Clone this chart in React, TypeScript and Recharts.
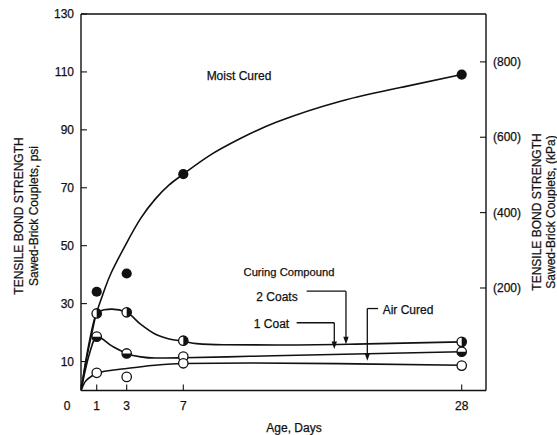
import React from 'react';
import { ComposedChart, Line, Scatter, XAxis, YAxis, ReferenceLine, ReferenceDot } from 'recharts';

// ---------- data ----------
const X_TICKS = [0, 1, 3, 7, 28];
const PSI_TICKS = [10, 30, 50, 70, 90, 110, 130];
const KPA_TICKS = [200, 400, 600, 800];

// fitted curves (day, psi)
const moistCurve = [
  { day: 0, psi: 0 }, { day: 0.25, psi: 8 }, { day: 0.5, psi: 15 }, { day: 0.75, psi: 21.3 },
  { day: 1, psi: 27 }, { day: 1.5, psi: 34.5 }, { day: 2, psi: 41 }, { day: 3, psi: 51 },
  { day: 4, psi: 59.5 }, { day: 5, psi: 66 }, { day: 6, psi: 71 }, { day: 7, psi: 74.7 },
  { day: 9, psi: 81.2 }, { day: 11.3, psi: 87 }, { day: 14, psi: 92.6 }, { day: 18.8, psi: 99.8 },
  { day: 23.8, psi: 105 }, { day: 28, psi: 109.1 },
];
const twoCoatCurve = [
  { day: 0, psi: 0 }, { day: 0.5, psi: 16 }, { day: 1, psi: 26.6 }, { day: 1.5, psi: 27.9 },
  { day: 2, psi: 28.1 }, { day: 3, psi: 27.0 }, { day: 4, psi: 22.8 }, { day: 5, psi: 19.5 },
  { day: 6, psi: 17.8 }, { day: 7, psi: 17.0 }, { day: 8, psi: 16.2 }, { day: 10, psi: 15.8 },
  { day: 14, psi: 15.7 }, { day: 20, psi: 16.0 }, { day: 28, psi: 16.8 },
];
const oneCoatCurve = [
  { day: 0, psi: 0 }, { day: 0.5, psi: 12 }, { day: 1, psi: 18.6 }, { day: 2, psi: 15.4 },
  { day: 3, psi: 12.8 }, { day: 4, psi: 11.6 }, { day: 5, psi: 11.2 }, { day: 7, psi: 11.3 },
  { day: 12, psi: 11.8 }, { day: 20, psi: 12.6 }, { day: 28, psi: 13.4 },
];
const airCurve = [
  { day: 0, psi: 0 }, { day: 0.2, psi: 2.5 }, { day: 0.5, psi: 4.3 }, { day: 1, psi: 5.9 },
  { day: 2, psi: 7.0 }, { day: 3, psi: 7.6 }, { day: 5, psi: 8.7 }, { day: 7, psi: 9.3 },
  { day: 12, psi: 9.5 }, { day: 20, psi: 9.2 }, { day: 28, psi: 8.7 },
];

// measured points
const moistPts = [{ day: 1, psi: 34.1 }, { day: 3, psi: 40.4 }, { day: 7, psi: 74.7 }, { day: 28, psi: 109.1 }];
const twoCoatPts = [{ day: 1, psi: 26.6 }, { day: 3, psi: 27.0 }, { day: 7, psi: 17.2 }, { day: 28, psi: 16.8 }];
const oneCoatPts = [{ day: 1, psi: 18.6 }, { day: 3, psi: 12.8 }, { day: 7, psi: 11.7 }, { day: 28, psi: 13.4 }];
const airPts = [{ day: 1, psi: 6.1 }, { day: 3, psi: 4.7 }, { day: 7, psi: 9.4 }, { day: 28, psi: 8.6 }];

// ---------- layout / style ----------
const INK = '#111';
const FONT = '"Liberation Sans", Arial, Helvetica, sans-serif';
const TEXT_STYLE = { fontFamily: FONT, fill: INK, stroke: INK, strokeWidth: 0.25 };
// hand-drawn age axis: position of each knot day as a fraction of the plot width
const AXIS_KNOT_DAYS = [0, 1, 3, 7, 28, 29.83];
const AXIS_KNOT_FRACS = [0, 0.0388, 0.1128, 0.2526, 0.94, 1];

function makeWarpScale(): any {
  let dom: number[] = [0, 1];
  let rng: number[] = [0, 1];
  const frac = (v: number) => {
    const k = AXIS_KNOT_DAYS;
    const f = AXIS_KNOT_FRACS;
    let i = 0;
    while (i < k.length - 2 && v > k[i + 1]) i++;
    const t = (v - k[i]) / (k[i + 1] - k[i]);
    return f[i] + t * (f[i + 1] - f[i]);
  };
  const s: any = (v: any) => rng[0] + frac(Number(v)) * (rng[rng.length - 1] - rng[0]);
  s.domain = (d?: any) => {
    if (d === undefined) return dom.slice();
    dom = Array.from(d).map(Number);
    return s;
  };
  s.range = (r?: any) => {
    if (r === undefined) return rng.slice();
    rng = Array.from(r).map(Number);
    return s;
  };
  s.rangeRound = (r: any) => s.range(r);
  s.copy = () => makeWarpScale().domain(dom).range(rng);
  s.ticks = () => X_TICKS.slice();
  s.tickFormat = () => (v: any) => String(v);
  s.invert = (p: number) => {
    const fr = (p - rng[0]) / (rng[rng.length - 1] - rng[0]);
    const k = AXIS_KNOT_DAYS;
    const f = AXIS_KNOT_FRACS;
    let i = 0;
    while (i < f.length - 2 && fr > f[i + 1]) i++;
    const t = (fr - f[i]) / (f[i + 1] - f[i]);
    return k[i] + t * (k[i + 1] - k[i]);
  };
  s.nice = () => s;
  s.clamp = () => s;
  s.unknown = () => s;
  s.interpolate = () => s;
  return s;
}
const warpScale = makeWarpScale();

const R = 4.7;
const Filled = (p: any) => <circle cx={p.cx} cy={p.cy} r={5.1} fill={INK} />;
const Open = (p: any) => <circle cx={p.cx} cy={p.cy} r={R} fill="#fff" stroke={INK} strokeWidth={1.3} />;
const HalfRight = (p: any) => (
  <g>
    <circle cx={p.cx} cy={p.cy} r={R} fill="#fff" stroke={INK} strokeWidth={1.3} />
    <path d={`M${p.cx},${p.cy - R} A${R},${R} 0 0 1 ${p.cx},${p.cy + R} Z`} fill={INK} />
  </g>
);
const HalfBottom = (p: any) => {
  if (p.payload && p.payload.day === 7) return <Open {...p} />;
  return (
    <g>
      <circle cx={p.cx} cy={p.cy} r={R} fill="#fff" stroke={INK} strokeWidth={1.3} />
      <path d={`M${p.cx - R},${p.cy} A${R},${R} 0 0 0 ${p.cx + R},${p.cy} Z`} fill={INK} />
    </g>
  );
};

const XTick = (p: any) => {
  const v = p.payload.value;
  const dx = v === 0 ? -14 : 0;
  return (
    <text x={p.x + dx} y={p.y} dy="0.71em" textAnchor="middle" fontSize={12} {...TEXT_STYLE}>
      {v}
    </text>
  );
};

const AxisTitles = () => (
  <g fontSize={12} textAnchor="middle" {...TEXT_STYLE}>
    <text transform="translate(23,216) rotate(-90)">TENSILE BOND STRENGTH</text>
    <text transform="translate(38,216) rotate(-90)">Sawed-Brick Couplets, psi</text>
    <text transform="translate(540.5,212) rotate(-90)">TENSILE BOND STRENGTH</text>
    <text transform="translate(555,212) rotate(-90)">Sawed-Brick Couplets, (kPa)</text>
    <text x={294} y={432}>Age, Days</text>
  </g>
);

const textShape = (txt: string, size: number) => (p: any) => (
  <text x={p.cx} y={p.cy} dy="0.35em" textAnchor="middle" fontSize={size} {...TEXT_STYLE}>
    {txt}
  </text>
);
const arrowShape = (p: any) => {
  const { x1, y1, x2, y2 } = p;
  return (
    <g>
      <line x1={x1} y1={y1} x2={x2} y2={y2 - 5} stroke={INK} strokeWidth={1.3} />
      <path d={`M${x2 - 2.7},${y2 - 7.5} L${x2 + 2.7},${y2 - 7.5} L${x2},${y2} Z`} fill={INK} />
    </g>
  );
};
const plainLine = (p: any) => (
  <line x1={p.x1} y1={p.y1} x2={p.x2} y2={p.y2} stroke={INK} strokeWidth={1.3} />
);

export default function App() {
  const lineProps = {
    yAxisId: 'left',
    dataKey: 'psi',
    type: 'monotone' as const,
    dot: false,
    activeDot: false,
    stroke: INK,
    strokeWidth: 1.6,
    isAnimationActive: false,
  };
  return (
    <div style={{ position: 'absolute', left: 0, top: 0, width: 557, height: 435 }}>
      <ComposedChart width={557} height={435} margin={{ top: 14, right: 0, bottom: 0, left: 0 }}>
        <XAxis
          dataKey="day"
          type="number"
          scale={warpScale}
          domain={[0, 29.83]}
          ticks={X_TICKS}
          height={44.5}
          tickSize={-6}
          tickMargin={16.5}
          tick={<XTick />}
          axisLine={{ stroke: INK, strokeWidth: 1.4 }}
          tickLine={{ stroke: INK, strokeWidth: 1.1 }}
          allowDataOverflow
        />
        <YAxis
          yAxisId="left"
          type="number"
          domain={[0, 130]}
          ticks={PSI_TICKS}
          width={81}
          tickSize={-6}
          tickMargin={13}
          tick={{ fontSize: 12, ...TEXT_STYLE }}
          axisLine={{ stroke: INK, strokeWidth: 1.4 }}
          tickLine={{ stroke: INK, strokeWidth: 1.1 }}
          allowDataOverflow
        />
        <YAxis
          yAxisId="right"
          orientation="right"
          type="number"
          domain={[-72, 927]}
          ticks={KPA_TICKS}
          width={71}
          tickSize={-6}
          tickMargin={13}
          tickFormatter={(v: number) => `(${v})`}
          tick={{ fontSize: 12, ...TEXT_STYLE, textAnchor: 'start' }}
          axisLine={{ stroke: INK, strokeWidth: 1.4 }}
          tickLine={{ stroke: INK, strokeWidth: 1.1 }}
          allowDataOverflow
        />
        <ReferenceLine yAxisId="left" y={130} stroke={INK} strokeWidth={1.4} />

        <Line {...lineProps} type="natural" data={moistCurve} />
        <Line {...lineProps} data={twoCoatCurve} />
        <Line {...lineProps} data={oneCoatCurve} />
        <Line {...lineProps} data={airCurve} />

        <Scatter yAxisId="left" data={moistPts} dataKey="psi" shape={Filled} isAnimationActive={false} />
        <Scatter yAxisId="left" data={twoCoatPts} dataKey="psi" shape={HalfRight} isAnimationActive={false} />
        <Scatter yAxisId="left" data={oneCoatPts} dataKey="psi" shape={HalfBottom} isAnimationActive={false} />
        <Scatter yAxisId="left" data={airPts} dataKey="psi" shape={Open} isAnimationActive={false} />

        {/* leader lines */}
        <ReferenceLine yAxisId="left" ifOverflow="visible" segment={[{ x: 16.31, y: 34.3 }, { x: 19.27, y: 34.3 }]} shape={plainLine} />
        <ReferenceLine yAxisId="left" ifOverflow="visible" segment={[{ x: 19.27, y: 34.3 }, { x: 19.27, y: 16.0 }]} shape={arrowShape} />
        <ReferenceLine yAxisId="left" ifOverflow="visible" segment={[{ x: 15.55, y: 23.4 }, { x: 18.39, y: 23.4 }]} shape={plainLine} />
        <ReferenceLine yAxisId="left" ifOverflow="visible" segment={[{ x: 18.39, y: 23.4 }, { x: 18.39, y: 14.3 }]} shape={arrowShape} />
        <ReferenceLine yAxisId="left" ifOverflow="visible" segment={[{ x: 21.69, y: 28.3 }, { x: 20.88, y: 28.3 }]} shape={plainLine} />
        <ReferenceLine yAxisId="left" ifOverflow="visible" segment={[{ x: 20.88, y: 28.3 }, { x: 20.88, y: 10.3 }]} shape={arrowShape} />

        {/* annotations */}
        <ReferenceDot yAxisId="left" ifOverflow="visible" x={11.2} y={108.8} shape={textShape('Moist Cured', 12)} />
        <ReferenceDot yAxisId="left" ifOverflow="visible" x={14.97} y={40.9} shape={textShape('Curing Compound', 11.2)} />
        <ReferenceDot yAxisId="left" ifOverflow="visible" x={14.07} y={32.2} shape={textShape('2 Coats', 12)} />
        <ReferenceDot yAxisId="left" ifOverflow="visible" x={13.65} y={22.9} shape={textShape('1 Coat', 12)} />
        <ReferenceDot yAxisId="left" ifOverflow="visible" x={23.95} y={28.0} shape={textShape('Air Cured', 12)} />

        <AxisTitles />
      </ComposedChart>
    </div>
  );
}
